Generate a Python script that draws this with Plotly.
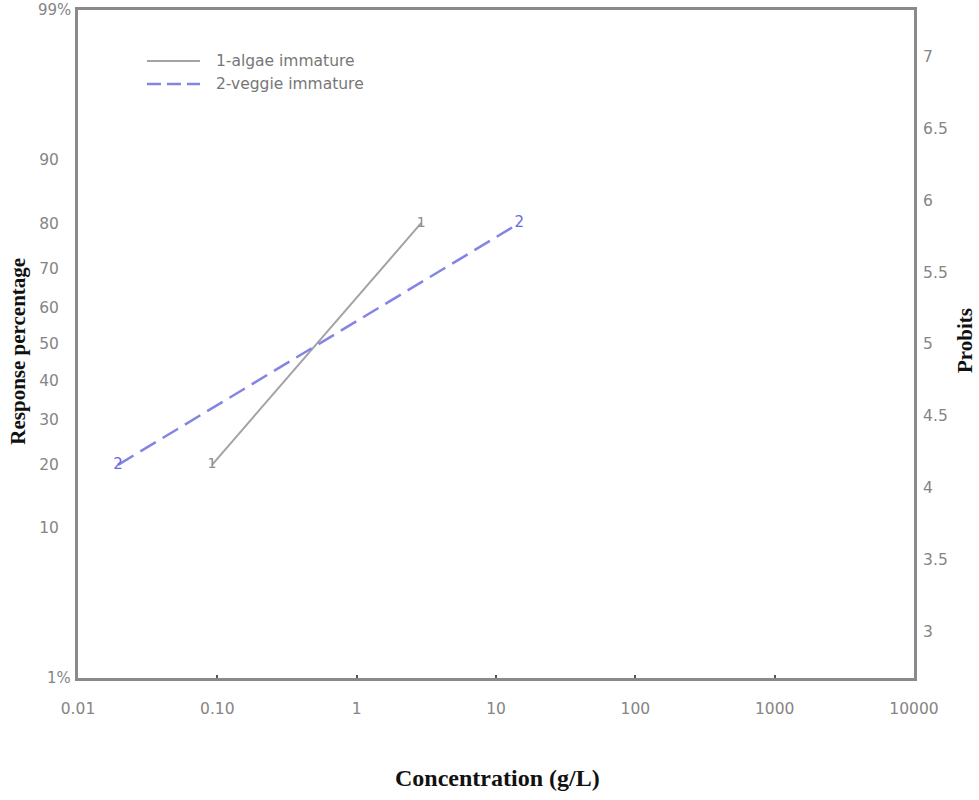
import plotly.graph_objects as go
from statistics import NormalDist

# ---- data ----
algae_conc = [0.0916, 2.9]          # g/L
algae_resp = [20, 80]               # response %
veggie_conc = [0.0194, 14.7]        # g/L
veggie_resp = [20, 80]              # response %

series_names = ["1-algae immature", "2-veggie immature"]
pct_ticks = [10, 20, 30, 40, 50, 60, 70, 80, 90]
pct_labels = ["10", "20", "30", "40", "50", "60", "70", "80", "90"]
pct_ends = [1, 99]
pct_end_labels = ["1%", "99%"]
probit_ticks = [3, 3.5, 4, 4.5, 5, 5.5, 6, 6.5, 7]
x_ticks = [0.01, 0.1, 1, 10, 100, 1000, 10000]
x_labels = ["0.01", "0.10", "1", "10", "100", "1000", "10000"]

nd = NormalDist()
def probit(p):
    return 5 + nd.inv_cdf(p / 100.0)

GRAY_LINE = "#a3a3a3"
BLUE_LINE = "#8484e6"
TICK_FONT = dict(family="DejaVu Sans", size=15.5, color="#858585")
AXIS_COLOR = "#8a8a8a"
BLUE_DASH = "18px,8px"

fig = go.Figure()
fig.add_trace(go.Scatter(
    x=algae_conc, y=[probit(v) for v in algae_resp],
    mode="lines+text", text=["1", "1"], textposition="middle center",
    textfont=dict(family="DejaVu Sans", size=14, color="#8c8c8c"),
    line=dict(color=GRAY_LINE, width=2),
    name=series_names[0], showlegend=False,
))
fig.add_trace(go.Scatter(
    x=veggie_conc, y=[probit(v) for v in veggie_resp],
    mode="lines+text", text=["2", "2"], textposition="middle center",
    textfont=dict(family="DejaVu Sans", size=15, color="#6a6ae0"),
    line=dict(color=BLUE_LINE, width=2.5, dash=BLUE_DASH),
    name=series_names[1], showlegend=False,
))
# invisible trace to activate right axis
fig.add_trace(go.Scatter(x=[1], y=[5], yaxis="y2", mode="markers",
                         marker=dict(opacity=0), showlegend=False, hoverinfo="skip"))

yrange = [probit(pct_ends[0]), probit(pct_ends[1])]

# manual legend (longer line samples than Plotly's built-in legend)
legend_shapes = [
    dict(type="line", xref="paper", yref="paper", x0=0.0825, x1=0.1459, y0=0.9237, y1=0.9237,
         line=dict(color=GRAY_LINE, width=2)),
    dict(type="line", xref="paper", yref="paper", x0=0.0825, x1=0.1459, y0=0.8892, y1=0.8892,
         line=dict(color=BLUE_LINE, width=2.5, dash="14px,6px")),
]
legend_ann = [
    dict(text=series_names[0], xref="paper", yref="paper", x=0.163, y=0.9237,
         xanchor="left", yanchor="middle", showarrow=False,
         font=dict(family="DejaVu Sans", size=15.5, color="#777777")),
    dict(text=series_names[1], xref="paper", yref="paper", x=0.163, y=0.8892,
         xanchor="left", yanchor="middle", showarrow=False,
         font=dict(family="DejaVu Sans", size=15.5, color="#777777")),
]
# end labels of the percentage axis sit closer to the axis line
end_ann = [
    dict(text=t, xref="paper", yref="y", x=-0.006, y=probit(p),
         xanchor="right", yanchor="middle", showarrow=False,
         font=dict(family="DejaVu Sans", size=15, color="#858585"))
    for p, t in zip(pct_ends, pct_end_labels)
]

fig.update_layout(
    width=979, height=800,
    margin=dict(l=78, r=65, t=10, b=122),
    paper_bgcolor="white", plot_bgcolor="white",
    showlegend=False,
    xaxis=dict(type="log", range=[-2, 4], tickvals=x_ticks, ticktext=x_labels,
               showgrid=False, zeroline=False, showline=True, linecolor=AXIS_COLOR,
               linewidth=3, mirror=True, ticks="inside", ticklen=3, tickwidth=2,
               tickcolor="#555555", tickfont=TICK_FONT, ticklabelstandoff=14,
               automargin=False),
    yaxis=dict(range=yrange, tickvals=[probit(v) for v in pct_ticks], ticktext=pct_labels,
               showgrid=False, zeroline=False, showline=True, linecolor=AXIS_COLOR,
               linewidth=3, ticks="", tickfont=TICK_FONT, ticklabelstandoff=13,
               automargin=False),
    yaxis2=dict(range=yrange, overlaying="y", side="right", tickvals=probit_ticks,
                ticktext=[f"{v:g}" for v in probit_ticks],
                showgrid=False, zeroline=False, showline=True, linecolor=AXIS_COLOR,
                linewidth=3, ticks="", tickfont=TICK_FONT, ticklabelstandoff=3,
                automargin=False),
    shapes=legend_shapes,
    annotations=legend_ann + end_ann + [
        dict(text="<b>Response percentage</b>", xref="paper", yref="paper",
             x=-0.0718, y=0.49, textangle=-90, showarrow=False,
             xanchor="center", yanchor="middle",
             font=dict(family="Liberation Serif, Times New Roman", size=21, color="#111111")),
        dict(text="<b>Probits</b>", xref="paper", yref="paper",
             x=1.061, y=0.506, textangle=-90, showarrow=False,
             xanchor="center", yanchor="middle",
             font=dict(family="Liberation Serif, Times New Roman", size=21, color="#111111")),
        dict(text="<b>Concentration (g/L)</b>", xref="paper", yref="paper",
             x=0.502, y=-0.1497, showarrow=False, xanchor="center", yanchor="middle",
             font=dict(family="Liberation Serif, Times New Roman", size=24, color="#111111")),
    ],
)

fig.write_html("out.html", config={"displayModeBar": False},
               post_script="document.body.style.margin='0';document.body.style.overflow='hidden';")
